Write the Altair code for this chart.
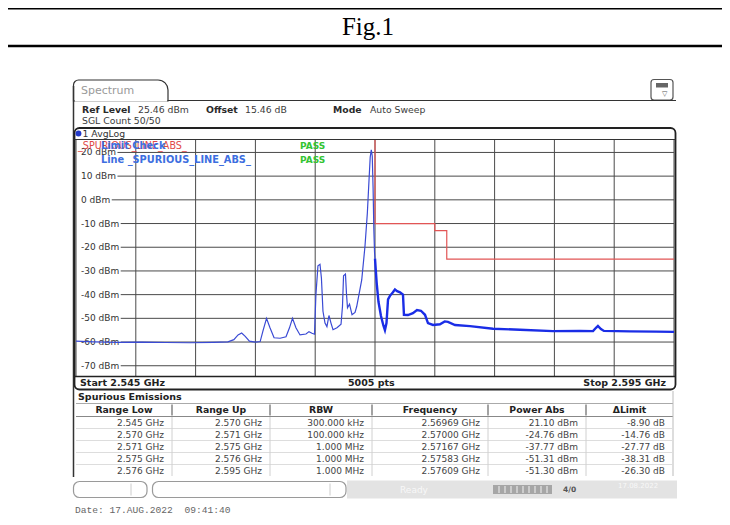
import altair as alt
import pandas as pd

# ---------------- data: spectrum trace (frequency in MHz, level in dBm) ----------------
trace_freq_a = [2545.0, 2546.5, 2548.5, 2550.5, 2552.5, 2554.5, 2556.5, 2557.7, 2558.2, 2558.55,
                2558.85, 2559.15, 2559.5, 2560.0, 2560.4, 2560.65, 2560.93, 2561.22, 2561.56, 2562.06,
                2562.56, 2562.85, 2563.10, 2563.39, 2563.73, 2564.23, 2564.48, 2564.73, 2564.94, 2565.06,
                2565.23, 2565.40, 2565.52, 2565.65, 2565.82, 2565.98, 2566.15, 2566.32, 2566.49, 2566.82,
                2567.16, 2567.28, 2567.37, 2567.53, 2567.62, 2567.70, 2567.87, 2568.08, 2568.33, 2568.47,
                2568.89, 2569.16, 2569.36, 2569.50, 2569.60, 2569.69, 2569.77, 2569.84, 2569.90, 2569.96,
                2570.0]
trace_dbm_a = [-59.6, -59.9, -60.1, -60.0, -60.2, -60.3, -60.1, -59.9, -59.0, -57.0,
               -56.2, -57.6, -59.6, -60.0, -59.8, -55.0, -50.0, -54.0, -58.2, -58.4,
               -57.8, -54.0, -50.0, -54.0, -57.0, -56.6, -55.6, -56.3, -56.7, -40.0,
               -27.8, -27.2, -33.0, -47.0, -52.0, -53.5, -48.8, -52.0, -54.8, -54.0,
               -52.5, -45.0, -32.0, -31.3, -40.0, -45.5, -44.0, -48.5, -47.5, -45.0,
               -33.8, -19.7, -5.6, 8.4, 18.0, 21.1, 18.5, 5.0, -12.0, -22.0,
               -24.8]
trace_freq_b = [2570.0, 2570.07, 2570.14, 2570.29, 2570.50, 2570.70, 2570.83, 2570.96, 2571.09, 2571.25,
                2571.50, 2571.67, 2571.85, 2572.09, 2572.34, 2572.42, 2572.76, 2573.17, 2573.51, 2573.84,
                2574.18, 2574.43, 2574.85, 2575.43, 2575.83, 2576.10, 2576.69, 2577.94, 2579.87, 2582.12,
                2584.88, 2587.14, 2588.23, 2588.48, 2588.64, 2588.89, 2589.14, 2591.32, 2593.5, 2595.0]
trace_dbm_b = [-24.8, -30.0, -35.0, -43.0, -49.0, -53.0, -55.0, -52.0, -42.0, -40.5,
               -39.0, -37.8, -38.5, -39.0, -40.0, -48.5, -48.6, -47.8, -46.5, -46.8,
               -48.5, -52.0, -52.8, -52.5, -51.3, -51.5, -52.8, -53.3, -54.4, -54.8,
               -55.4, -55.3, -55.4, -54.0, -53.2, -54.5, -55.3, -55.5, -55.6, -55.7]

limit_freq = [2545, 2570, 2570, 2575, 2575, 2576, 2576, 2595]
limit_dbm = [30, 30, -10, -10, -13, -13, -25, -25]

freq_grid = [2545, 2550, 2555, 2560, 2565, 2570, 2575, 2580, 2585, 2590, 2595]
level_grid = [20, 10, 0, -10, -20, -30, -40, -50, -60, -70]
level_labels = ["20 dBm", "10 dBm", "0 dBm", "-10 dBm", "-20 dBm", "-30 dBm",
                "-40 dBm", "-50 dBm", "-60 dBm", "-70 dBm"]
REF_LEVEL = 25.46
BOTTOM_LEVEL = REF_LEVEL - 100
F_START, F_STOP = 2545, 2595

tbl_cols = ["Range Low", "Range Up", "RBW", "Frequency", "Power Abs", "ΔLimit"]
range_low = ["2.545 GHz", "2.570 GHz", "2.571 GHz", "2.575 GHz", "2.576 GHz"]
range_up = ["2.570 GHz", "2.571 GHz", "2.575 GHz", "2.576 GHz", "2.595 GHz"]
rbw = ["300.000 kHz", "100.000 kHz", "1.000 MHz", "1.000 MHz", "1.000 MHz"]
peak_freq = ["2.56969 GHz", "2.57000 GHz", "2.57167 GHz", "2.57583 GHz", "2.57609 GHz"]
power_abs = ["21.10 dBm", "-24.76 dBm", "-37.77 dBm", "-51.31 dBm", "-51.30 dBm"]
delta_limit = ["-8.90 dB", "-14.76 dB", "-27.77 dB", "-38.31 dB", "-26.30 dB"]

# ---------------- layout ----------------
W, H = 598, 237          # plot grid area
OX, OY = 76, 139.5       # page position of the grid's top-left corner
SVG_W, SVG_H = 714, 508
PAD = {"left": OX - 8, "top": OY - 8, "right": SVG_W - (OX - 8) - W,
       "bottom": SVG_H - (OY - 8) - H}

xs = alt.Scale(domain=[F_START, F_STOP], nice=False, zero=False)
ys = alt.Scale(domain=[BOTTOM_LEVEL, REF_LEVEL], nice=False, zero=False)
FONT = "DejaVu Sans"


def P(x):
    return round(x - OX, 2)


def Q(y):
    return round(y - OY, 2)


CW = {"0": .636, "1": .636, "2": .636, "3": .636, "4": .636, "5": .636, "6": .636,
      "7": .636, "8": .636, "9": .636, "-": .361, " ": .318, "d": .635, "B": .686, "m": .974}


def text_w(s, size):
    return size * sum(CW.get(ch, .6) for ch in s)


def pix_rules(rows):
    df = pd.DataFrame([{"x1": P(a), "y1": Q(b), "x2": P(c), "y2": Q(d), "col": col, "sw": sw}
                       for a, b, c, d, col, sw in rows])
    return alt.Chart(df).mark_rule().encode(
        x=alt.X("x1:Q", scale=None, axis=None), x2="x2:Q",
        y=alt.Y("y1:Q", scale=None, axis=None), y2="y2:Q",
        color=alt.Color("col:N", scale=None),
        strokeWidth=alt.StrokeWidth("sw:Q", scale=None))


def pix_rects(rows, **mk):
    df = pd.DataFrame([{"x1": P(a), "y1": Q(b), "x2": P(c), "y2": Q(d), "fl": f, "st": s}
                       for a, b, c, d, f, s in rows])
    return alt.Chart(df).mark_rect(**mk).encode(
        x=alt.X("x1:Q", scale=None, axis=None), x2="x2:Q",
        y=alt.Y("y1:Q", scale=None, axis=None), y2="y2:Q",
        fill=alt.Fill("fl:N", scale=None),
        stroke=alt.Stroke("st:N", scale=None))


def pix_text(rows, font=FONT, weight="normal", align="left"):
    df = pd.DataFrame([{"t": t, "x": P(x), "y": Q(y), "col": c, "fs": s} for t, x, y, c, s in rows])
    return alt.Chart(df).mark_text(font=font, fontWeight=weight, align=align, baseline="middle").encode(
        x=alt.X("x:Q", scale=None, axis=None), y=alt.Y("y:Q", scale=None, axis=None),
        text="t:N", color=alt.Color("col:N", scale=None), size=alt.Size("fs:Q", scale=None))


# ---------------- background shapes ----------------
back_rects = pix_rects([
    (347, 480.5, 677, 498.5, "#e3e3e3", "transparent"),
    (493, 485, 552, 494, "#a6a6a6", "transparent"),
    (656, 83, 668, 87.5, "#666666", "transparent"),
], strokeWidth=1)
tab = pix_rects([(73.5, 80, 168, 101, "#ffffff", "#333333")],
                strokeWidth=1.2, cornerRadiusTopLeft=5, cornerRadiusTopRight=10)
icon = pix_rects([(651, 79.5, 673, 100, "transparent", "#555555")], strokeWidth=1.2, cornerRadius=3)
status = pix_rects([(73.5, 481.5, 147, 497.5, "#ffffff", "#9a9a9a"),
                    (152.5, 481.5, 346, 497.5, "#ffffff", "#9a9a9a")], strokeWidth=1.2, cornerRadius=6)

seps = [76, 172, 270, 372, 488, 586, 673]
row_top = 416.5
row_h = 12
nrows = len(range_low)

rule_rows = [
    (8, 8.75, 722, 8.75, "#000000", 1.5),
    (8, 46, 722, 46, "#000000", 2.5),
    (75, 100.5, 167, 100.5, "#ffffff", 2),
    (73.5, 86, 73.5, 477, "#333333", 1.5),
    (168, 100.5, 676, 100.5, "#333333", 1.2),
    (76, 403.5, 673, 403.5, "#aaaaaa", 1),
    (76, 416.5, 673, 416.5, "#888888", 1),
    (673, 391, 673, 476, "#bbbbbb", 1),
    (131, 483.5, 131, 495.5, "#cccccc", 1),
    (330, 483.5, 330, 495.5, "#cccccc", 1),
]
for r in range(1, nrows):
    yy = row_top + r * row_h
    rule_rows.append((76, yy, 673, yy, "#dddddd", 1))
for s in seps[1:-1]:
    rule_rows.append((s, 404.5, s, 415.5, "#666666", 1.2))
    rule_rows.append((s, 417, s, 476, "#d0d0d0", 1))
for xx in [499, 505, 511, 517, 523, 529, 535, 541, 547]:
    rule_rows.append((xx, 486, xx, 493, "#e6e6e6", 1.2))
rules = pix_rules(rule_rows)

# ---------------- grid, labels, traces ----------------
vgrid = alt.Chart(pd.DataFrame({"f": freq_grid})).mark_rule(color="#4a4a4a", strokeWidth=1).encode(
    x=alt.X("f:Q", scale=xs, axis=None), y=alt.value(0), y2=alt.value(H))
hg_df = pd.DataFrame({"level": level_grid,
                      "x0": [P(81) + text_w(l, 9) + 1.5 for l in level_labels]})
hgrid = alt.Chart(hg_df).mark_rule(color="#4a4a4a", strokeWidth=1).encode(
    x=alt.X("x0:Q", scale=None, axis=None), x2=alt.value(W),
    y=alt.Y("level:Q", scale=ys, axis=None))
ylabels = alt.Chart(pd.DataFrame({"level": level_grid, "label": level_labels})).mark_text(
    font=FONT, fontSize=9, align="left", baseline="middle", color="#333333").encode(
    x=alt.value(P(81)), y=alt.Y("level:Q", scale=ys, axis=None), text="label:N")


def trace(fr, db, color, sw):
    df = pd.DataFrame({"f": fr, "d": db, "i": list(range(len(fr)))})
    return alt.Chart(df).mark_line(color=color, strokeWidth=sw, clip=True).encode(
        x=alt.X("f:Q", scale=xs, axis=None), y=alt.Y("d:Q", scale=ys, axis=None), order="i:Q")


limit_line = trace(limit_freq, limit_dbm, "#e25555", 1.2)
trace_a = trace(trace_freq_a, trace_dbm_a, "#3a4ad4", 1.2)
trace_b = trace(trace_freq_b, trace_dbm_b, "#1a2de6", 2.4)

frame = pix_rects([(74.5, 128, 675.5, 389.5, "transparent", "#222222")], strokeWidth=1.8, cornerRadius=5)
borders = pix_rules([(74.5, 139.5, 675.5, 139.5, "#333333", 1),
                     (74.5, 376.5, 675.5, 376.5, "#222222", 1.5)])
dot = alt.Chart(pd.DataFrame({"x": [P(78.5)], "y": [Q(133.5)]})).mark_circle(
    size=34, color="#2238c8", opacity=1).encode(
    x=alt.X("x:Q", scale=None, axis=None), y=alt.Y("y:Q", scale=None, axis=None))

# ---------------- texts ----------------
HC = "#3c3c3c"
reg_left = pix_text([
    ("Spectrum", 81, 90.5, "#9a9a9a", 11),
    ("25.46 dBm", 138, 109.5, HC, 9.3),
    ("15.46 dB", 245, 109.5, HC, 9.3),
    ("Auto Sweep", 370, 109.5, HC, 9.3),
    ("SGL Count 50/50", 82, 121, HC, 9.3),
    ("1 AvgLog", 82.5, 133.5, "#333333", 9.3),
    ("_SPURIOUS_LINE_ABS_", 78, 145.5, "#e04848", 9.6),
    ("Ready", 400, 490, "#f8f8f8", 9),
    ("17.08.2022", 618, 485.5, "#f8f8f8", 7),
    ("▽", 662, 93.5, "#555555", 7),
])
bold_left = pix_text([
    ("Ref Level", 82, 109.5, "#2a2a2a", 9.3),
    ("Offset", 206, 109.5, "#2a2a2a", 9.3),
    ("Mode", 333, 109.5, "#2a2a2a", 9.3),
    ("Limit Check", 101, 145.5, "#3d6ee0", 9.8),
    ("Line _SPURIOUS_LINE_ABS_", 101, 159.5, "#3d6ee0", 9.8),
    ("PASS", 300, 145.5, "#33c433", 9),
    ("PASS", 300, 159.5, "#33c433", 9),
    ("Start 2.545 GHz", 80, 383, "#222222", 9.5),
    ("5005 pts", 348, 383, "#222222", 9.5),
    ("Spurious Emissions", 78, 397, "#222222", 9.5),
    ("4/0", 563, 489.5, "#555555", 7.5),
], weight="bold")
bold_right = pix_text([("Stop 2.595 GHz", 666, 383, "#222222", 9.5)], weight="bold", align="right")
headers = pix_text([(c, (seps[i] + seps[i + 1]) / 2, 410, "#222222", 9.3) for i, c in enumerate(tbl_cols)],
                   weight="bold", align="center")
cells = []
for ci, col in enumerate([range_low, range_up, rbw, peak_freq, power_abs, delta_limit]):
    for ri, v in enumerate(col):
        cells.append((v, seps[ci + 1] - 8, row_top + ri * row_h + 6, "#444444", 9))
values = pix_text(cells, align="right")
fig_title = pix_text([("Fig.1", 368, 27, "#000000", 25)], font="Liberation Serif", align="center")
date_txt = pix_text([("Date:\u00a017.AUG.2022\u00a0\u00a009:41:40", 75, 509.5, "#666666", 9.6)],
                    font="Liberation Mono")

chart = alt.layer(
    back_rects, tab, icon, status, rules,
    vgrid, hgrid, ylabels, limit_line, trace_a, trace_b,
    frame, borders, dot,
    reg_left, bold_left, bold_right, headers, values, fig_title, date_txt,
).properties(
    width=W, height=H, padding=PAD, autosize=alt.AutoSizeParams(type="none"),
    background="white",
).resolve_scale(x="independent", y="independent").configure_view(stroke=None)

chart.save("out.html", embed_options={"renderer": "svg", "actions": False})
